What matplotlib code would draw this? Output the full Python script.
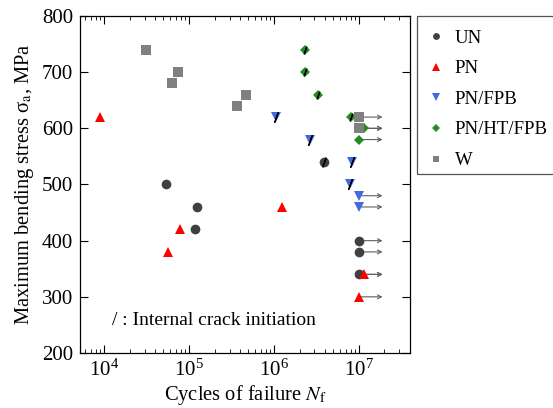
import matplotlib
matplotlib.use("Agg")
import matplotlib.pyplot as plt
from matplotlib.patches import Rectangle
import numpy as np

plt.rcParams['font.family'] = ['Liberation Serif', 'DejaVu Serif']
plt.rcParams['mathtext.fontset'] = 'stix'

# ---- data (cycles, stress MPa) ----
un_n = [5.4e4, 1.24e5, 1.18e5, 3.9e6]
un_s = [500, 460, 420, 540]
un_run_n = [1e7, 1e7, 1e7]
un_run_s = [400, 380, 340]
un_int = [3]  # indices with internal crack

pn_n = [9e3, 7.8e4, 5.7e4, 1.26e6]
pn_s = [620, 420, 380, 460]
pn_run_n = [1.15e7, 1e7]
pn_run_s = [340, 300]

fpb_n = [1.05e6, 2.65e6, 8.3e6, 7.9e6]
fpb_s = [620, 580, 540, 500]
fpb_run_n = [1e7, 1e7]
fpb_run_s = [480, 460]
fpb_int = [0, 1, 2, 3]

ht_n = [2.3e6, 2.3e6, 3.3e6, 8.1e6]
ht_s = [740, 700, 660, 620]
ht_run_n = [1.14e7, 1e7]
ht_run_s = [600, 580]
ht_int = [0, 1, 2, 3]

w_n = [3.15e4, 7.4e4, 6.3e4, 4.7e5, 3.7e5]
w_s = [740, 700, 680, 660, 640]
w_run_n = [1e7, 1e7]
w_run_s = [620, 600]

arrow_end = 1.9e7

fig = plt.figure(figsize=(5.53, 4.08), dpi=100)
ax = fig.add_axes([0.1447, 0.1348, 0.5967, 0.826])

series = [
    ("UN", un_n, un_s, un_run_n, un_run_s, un_int, 'o', '#404040', 7),
    ("PN", pn_n, pn_s, pn_run_n, pn_run_s, [], '^', '#ff0000', 7.5),
    ("PN/FPB", fpb_n, fpb_s, fpb_run_n, fpb_run_s, fpb_int, 'v', '#4169e1', 7.5),
    ("PN/HT/FPB", ht_n, ht_s, ht_run_n, ht_run_s, ht_int, 'D', '#228b22', 5.5),
    ("W", w_n, w_s, w_run_n, w_run_s, [], 's', '#808080', 7),
]

# runout arrows first (behind markers)
for name, n, s, rn, rs, ii, m, c, ms in series:
    for x, y in zip(rn, rs):
        ax.annotate('', xy=(arrow_end, y), xytext=(x, y),
                    arrowprops=dict(arrowstyle='->', color='#606060', lw=0.8,
                                    shrinkA=0, shrinkB=0, mutation_scale=7))

handles = []
for name, n, s, rn, rs, ii, m, c, ms in series:
    ax.plot(n, s, linestyle='none', marker=m, color=c, markersize=ms, markeredgewidth=0, zorder=3)
    ax.plot(rn, rs, linestyle='none', marker=m, color=c, markersize=ms, markeredgewidth=0, zorder=3)
    if ii:
        ax.plot([n[i] for i in ii], [s[i] for i in ii], linestyle='none',
                marker=(2, 2, -20), color='black', markersize=ms * 1.05,
                markeredgewidth=0.9, zorder=4)
    h, = ax.plot([], [], linestyle='none', marker=m, color=c,
                 markersize=ms * 0.7, markeredgewidth=0, label=name)
    handles.append(h)

ax.set_xscale('log')
ax.set_xlim(5.2e3, 4e7)
ax.set_ylim(200, 800)
ax.set_yticks([200, 300, 400, 500, 600, 700, 800])
ax.set_xticks([1e4, 1e5, 1e6, 1e7])
ax.tick_params(which='both', direction='in', top=True, right=True, labelsize=15)
ax.tick_params(which='major', length=6, width=0.8, pad=5)
ax.tick_params(which='minor', length=3, width=0.6)
for sp in ax.spines.values():
    sp.set_linewidth(0.9)

ax.set_xlabel(r'Cycles of failure $N_\mathrm{f}$', fontsize=14.8, labelpad=1)
ax.set_ylabel(r'Maximum bending stress σ$_\mathrm{a}$, MPa', fontsize=14.8, labelpad=4)

ax.text(0.097, 0.095, '/ : Internal crack initiation', transform=ax.transAxes,
        fontsize=14, va='center', ha='left')

# legend frame drawn manually
fig.patches.append(Rectangle((417.5 / 553, 1 - 174 / 408), 140 / 553, 158 / 408,
                             transform=fig.transFigure, fill=False,
                             edgecolor='#555555', linewidth=0.9))
leg = fig.legend(handles=handles, loc='upper left', bbox_to_anchor=(0.7714, 0.9277),
                 fontsize=13.5, frameon=False,
                 handlelength=1.0, handletextpad=0.51, labelspacing=0.72,
                 borderpad=0, borderaxespad=0)

fig.savefig('out.png', dpi=100)
